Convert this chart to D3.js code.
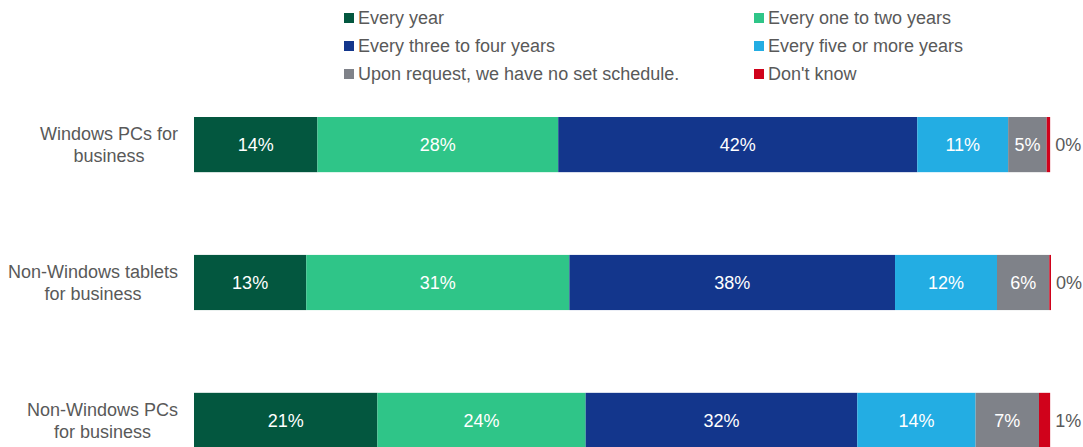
<!DOCTYPE html>
<html>
<head>
<meta charset="utf-8">
<script src="https://cdn.jsdelivr.net/npm/d3@7"></script>
<style>
  body { margin: 0; background: #fff; }
  svg text { font-family: "Liberation Sans", Arial, sans-serif; }
</style>
</head>
<body>
<svg width="1083" height="447"></svg>
<script>
// data
var categories = [
  ["Windows PCs for", "business"],
  ["Non-Windows tablets", "for business"],
  ["Non-Windows PCs", "for business"]
];
var seriesNames = ["Every year", "Every one to two years", "Every three to four years",
                   "Every five or more years", "Upon request, we have no set schedule.", "Don't know"];
var everyYear      = [14.4, 13.1, 21.4];
var oneToTwo       = [28.1, 30.7, 24.3];
var threeToFour    = [41.9, 38.0, 31.7];
var fiveOrMore     = [10.6, 11.9, 13.8];
var uponRequest    = [4.5, 6.1, 7.4];
var dontKnow       = [0.4, 0.2, 1.3];
var colors = ["#03573f", "#2fc588", "#13368c", "#23ade3", "#7f8289", "#d0021b"];

var series = [everyYear, oneToTwo, threeToFour, fiveOrMore, uponRequest, dontKnow];
var fs = "18px";

var svg = d3.select("svg");

var x = d3.scaleLinear().domain([0, 100]).range([194, 1051]);
var y = d3.scaleBand().domain(d3.range(categories.length)).range([117, 448]).paddingInner(0.6).paddingOuter(0);

// stack rows
var rows = categories.map(function (c, i) {
  var acc = 0;
  return series.map(function (s, k) {
    var d = { row: i, k: k, v: s[i], x0: acc, x1: acc + s[i] };
    acc += s[i];
    return d;
  });
});

var g = svg.append("g");
rows.forEach(function (r) {
  var rg = g.append("g");
  rg.selectAll("rect").data(r).enter().append("rect")
    .attr("x", d => x(d.x0))
    .attr("width", d => x(d.x1) - x(d.x0))
    .attr("y", d => y(d.row))
    .attr("height", y.bandwidth())
    .attr("fill", d => colors[d.k]);

  rg.selectAll("text").data(r).enter().append("text")
    .attr("x", d => d.k === 5 ? x(d.x1) + 5 : (x(d.x0) + x(d.x1)) / 2)
    .attr("y", d => y(d.row) + y.bandwidth() / 2)
    .attr("dy", "0.35em")
    .attr("text-anchor", d => d.k === 5 ? "start" : "middle")
    .attr("fill", d => d.k === 5 ? "#595959" : "#fff")
    .attr("font-size", fs)
    .text(d => Math.round(d.v) + "%");
});

// category labels: block right-aligned at 178, lines centred in block
var cat = svg.append("g").selectAll("text").data(categories).enter().append("text")
  .attr("text-anchor", "middle")
  .attr("fill", "#595959")
  .attr("font-size", fs);
cat.each(function (c, i) {
  var t = d3.select(this);
  var cy = y(i) + y.bandwidth() / 2;
  var spans = t.selectAll("tspan").data(c).enter().append("tspan")
    .attr("y", (d, j) => cy - 11 + j * 22)
    .attr("dy", "0.35em")
    .text(d => d);
  var maxW = d3.max(spans.nodes(), n => n.getComputedTextLength());
  spans.attr("x", 178 - maxW / 2);
});

// legend
var legend = svg.append("g").selectAll("g").data(seriesNames).enter().append("g")
  .attr("transform", (d, i) => "translate(" + (i % 2 === 0 ? 344 : 754) + "," + (18 + Math.floor(i / 2) * 28) + ")");
legend.append("rect")
  .attr("x", 0).attr("y", -5).attr("width", 10).attr("height", 10)
  .attr("fill", (d, i) => colors[i]);
legend.append("text")
  .attr("x", 14).attr("dy", "0.35em")
  .attr("font-size", fs)
  .attr("fill", "#595959")
  .text(d => d);
</script>
</body>
</html>
